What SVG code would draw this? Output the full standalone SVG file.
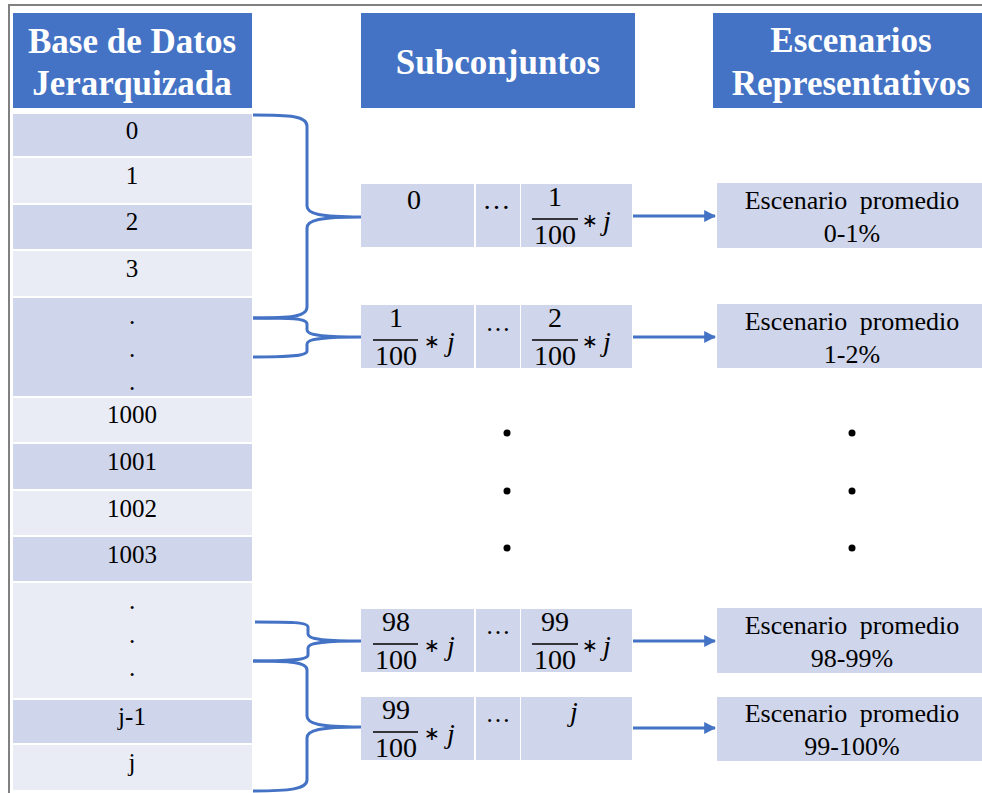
<svg xmlns="http://www.w3.org/2000/svg" width="982" height="793" viewBox="0 0 982 793">
<defs>
<style>
.hdr{fill:#4472C4}
.dk{fill:#CFD5EA}
.lt{fill:#E9EBF5}
.ht{font-family:"Liberation Serif",serif;font-weight:bold;font-size:35px;fill:#fff;text-anchor:middle}
.ct{font-family:"Liberation Serif",serif;font-size:25px;fill:#000;text-anchor:middle}
.et{font-family:"Liberation Serif",serif;font-size:26px;fill:#000;text-anchor:middle;word-spacing:6px}
.mt{font-family:"Liberation Serif",serif;font-size:28px;fill:#000;text-anchor:middle}
.mi{font-family:"Liberation Serif",serif;font-style:italic;font-size:28px;fill:#000;text-anchor:middle}
.ms{font-family:"DejaVu Sans",sans-serif;font-size:19px;fill:#000;text-anchor:middle}
.bar{stroke:#000;stroke-width:1.5}
.br{fill:none;stroke:#4472C4;stroke-width:3}
.ar{fill:none;stroke:#4472C4;stroke-width:3}
.dot{fill:#000}
</style>
<marker id="ah" viewBox="0 0 10 10" refX="9" refY="5" markerWidth="4" markerHeight="4" markerUnits="strokeWidth" orient="auto">
<path d="M0,0 L10,5 L0,10 z" fill="#4472C4"/>
</marker>
</defs>
<rect x="0" y="0" width="982" height="793" fill="#fff"/>
<rect x="9" y="5" width="1000" height="1000" fill="none" stroke="#808080" stroke-width="2"/>

<g id="col-db">
<rect class="hdr" x="13" y="13" width="239" height="95"/>
<text class="ht" x="132" y="53">Base de Datos</text>
<text class="ht" x="132" y="95">Jerarquizada</text>
<rect class="dk" x="13" y="114" width="239" height="42"/><text class="ct" x="132" y="139">0</text>
<rect class="lt" x="13" y="158" width="239" height="45"/><text class="ct" x="132" y="184">1</text>
<rect class="dk" x="13" y="205" width="239" height="44"/><text class="ct" x="132" y="230">2</text>
<rect class="lt" x="13" y="251" width="239" height="45"/><text class="ct" x="132" y="277">3</text>
<rect class="dk" x="13" y="298" width="239" height="98"/>
<text class="ct" x="132" y="324">.</text><text class="ct" x="132" y="357">.</text><text class="ct" x="132" y="390">.</text>
<rect class="lt" x="13" y="398" width="239" height="44"/><text class="ct" x="132" y="423">1000</text>
<rect class="dk" x="13" y="444" width="239" height="45"/><text class="ct" x="132" y="470">1001</text>
<rect class="lt" x="13" y="491" width="239" height="44"/><text class="ct" x="132" y="517">1002</text>
<rect class="dk" x="13" y="537" width="239" height="44"/><text class="ct" x="132" y="563">1003</text>
<rect class="lt" x="13" y="583" width="239" height="115"/>
<text class="ct" x="132" y="609">.</text><text class="ct" x="132" y="643">.</text><text class="ct" x="132" y="676">.</text>
<rect class="dk" x="13" y="700" width="239" height="43"/><text class="ct" x="132" y="725">j-1</text>
<rect class="lt" x="13" y="745" width="239" height="45"/><text class="ct" x="132" y="771">j</text>
</g>

<g id="hdr-sub">
<rect class="hdr" x="361" y="13" width="274" height="95"/>
<text class="ht" x="498" y="74">Subconjuntos</text>
</g>

<g id="hdr-esc">
<rect class="hdr" x="713" y="13" width="280" height="95"/>
<text class="ht" x="851" y="52">Escenarios</text>
<text class="ht" x="851" y="95">Representativos</text>
</g>

<g id="sub-1">
<rect class="dk" x="361" y="184" width="113" height="63"/>
<rect class="dk" x="476" y="184" width="44" height="63"/>
<rect class="dk" x="521" y="184" width="111" height="63"/>
<text class="mt" x="414" y="209">0</text>
<text class="mt" x="497" y="209" letter-spacing="1">…</text>
<text class="mt" x="555" y="206">1</text>
<line class="bar" x1="532" y1="219" x2="578" y2="219"/>
<text class="mt" x="555" y="244">100</text>
<text class="ms" x="590" y="227">∗</text>
<text class="mi" x="607" y="230">j</text>
</g>

<g id="sub-2">
<rect class="dk" x="361" y="305" width="113" height="63"/>
<rect class="dk" x="476" y="305" width="44" height="63"/>
<rect class="dk" x="521" y="305" width="111" height="63"/>
<text class="mt" x="396" y="327">1</text>
<line class="bar" x1="373" y1="340" x2="418" y2="340"/>
<text class="mt" x="396" y="365">100</text>
<text class="ms" x="432" y="348">∗</text>
<text class="mi" x="451" y="351">j</text>
<text class="ct" x="498" y="331" font-size="20">…</text>
<text class="mt" x="555" y="327">2</text>
<line class="bar" x1="532" y1="340" x2="578" y2="340"/>
<text class="mt" x="555" y="365">100</text>
<text class="ms" x="590" y="348">∗</text>
<text class="mi" x="607" y="351">j</text>
</g>

<g id="sub-3">
<rect class="dk" x="361" y="609" width="113" height="63"/>
<rect class="dk" x="476" y="609" width="44" height="63"/>
<rect class="dk" x="521" y="609" width="111" height="63"/>
<text class="mt" x="396" y="631">98</text>
<line class="bar" x1="373" y1="644" x2="418" y2="644"/>
<text class="mt" x="396" y="669">100</text>
<text class="ms" x="432" y="652">∗</text>
<text class="mi" x="451" y="655">j</text>
<text class="ct" x="498" y="634" font-size="20">…</text>
<text class="mt" x="555" y="631">99</text>
<line class="bar" x1="532" y1="644" x2="578" y2="644"/>
<text class="mt" x="555" y="669">100</text>
<text class="ms" x="590" y="652">∗</text>
<text class="mi" x="607" y="655">j</text>
</g>

<g id="sub-4">
<rect class="dk" x="361" y="697" width="113" height="63"/>
<rect class="dk" x="476" y="697" width="44" height="63"/>
<rect class="dk" x="521" y="697" width="111" height="63"/>
<text class="mt" x="396" y="719">99</text>
<line class="bar" x1="373" y1="732" x2="418" y2="732"/>
<text class="mt" x="396" y="757">100</text>
<text class="ms" x="432" y="740">∗</text>
<text class="mi" x="451" y="743">j</text>
<text class="ct" x="498" y="722" font-size="20">…</text>
<text class="mi" x="574" y="721">j</text>
</g>

<g id="esc-1">
<rect class="dk" x="717" y="183" width="280" height="65"/>
<text class="et" x="852" y="209">Escenario promedio</text>
<text class="et" x="852" y="242">0-1%</text>
</g>
<g id="esc-2">
<rect class="dk" x="717" y="304" width="280" height="64"/>
<text class="et" x="852" y="330">Escenario promedio</text>
<text class="et" x="852" y="363">1-2%</text>
</g>
<g id="esc-3">
<rect class="dk" x="717" y="608" width="280" height="65"/>
<text class="et" x="852" y="634">Escenario promedio</text>
<text class="et" x="852" y="667">98-99%</text>
</g>
<g id="esc-4">
<rect class="dk" x="717" y="697" width="280" height="64"/>
<text class="et" x="852" y="722">Escenario promedio</text>
<text class="et" x="852" y="755">99-100%</text>
</g>

<g id="ellipsis">
<circle class="dot" cx="507" cy="433" r="3.5"/>
<circle class="dot" cx="507" cy="491" r="3.5"/>
<circle class="dot" cx="507" cy="548" r="3.5"/>
<circle class="dot" cx="852" cy="433" r="3.5"/>
<circle class="dot" cx="852" cy="491" r="3.5"/>
<circle class="dot" cx="852" cy="548" r="3.5"/>
</g>

<g id="connectors">
<path class="br" d="M253,115 C290,115 307,116 307,126 V206 C307,214 320,217 361,217 C320,217 307,220 307,228 V307 C307,317 290,318 253,318"/>
<path class="br" d="M253,318 C290,318 307,318 307,324 V330 C307,335 320,337 361,337 C320,337 307,339 307,344 V351 C307,356 290,357 253,357"/>
<path class="br" d="M255,622 C290,622 308,622 308,627 V634 C308,639 320,641 361,641 C320,641 308,643 308,648 V655 C308,660 290,661 253,661"/>
<path class="br" d="M253,661 C290,661 307,662 307,670 V716 C307,724 320,727 361,727 C320,727 307,730 307,738 V780 C307,789 290,791 253,791"/>
<line class="ar" x1="633" y1="216" x2="715" y2="216" marker-end="url(#ah)"/>
<line class="ar" x1="633" y1="337" x2="715" y2="337" marker-end="url(#ah)"/>
<line class="ar" x1="633" y1="641" x2="715" y2="641" marker-end="url(#ah)"/>
<line class="ar" x1="633" y1="728" x2="715" y2="728" marker-end="url(#ah)"/>
</g>
</svg>
